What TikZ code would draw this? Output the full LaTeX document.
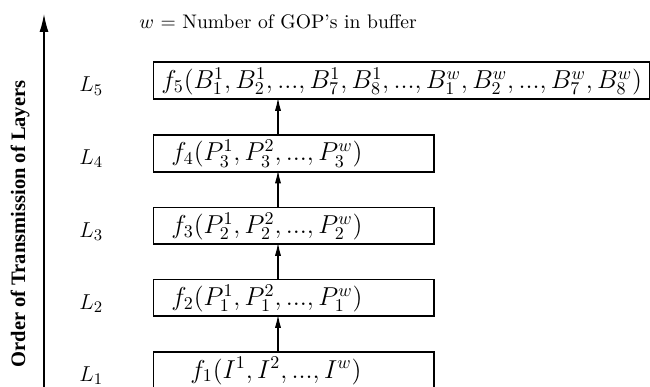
\documentclass[tikz,border=0pt]{standalone}
\usepackage{fontspec}
\newfontfamily\sidefont{Liberation Serif}
\usetikzlibrary{arrows.meta}
\begin{document}
\begin{tikzpicture}[x=0.5556pt,y=-0.5556pt,
  layerbox/.style={draw, line width=1.1pt, rectangle, inner sep=0pt,
    minimum height=20.3pt, anchor=north west},
  smallbox/.style={layerbox, minimum width=155.6pt},
  bigbox/.style={layerbox, minimum width=275.9pt},
  boxtext/.style={anchor=base west, inner sep=0pt, font=\fontsize{14}{16}\selectfont},
  lname/.style={anchor=base west, inner sep=0pt, font=\fontsize{12.5}{14}\selectfont},
  uparrow/.style={line width=0.8pt, -{Latex[length=7.5pt,width=3.4pt]}, shorten >=-1.5pt},
  axisarrow/.style={line width=0.8pt, -{Latex[length=10pt,width=5pt]}}]
\useasboundingbox (0,0) rectangle (650,386);
\clip (0,0) rectangle (650,386);
% title
\node[anchor=base west, inner sep=0pt, font=\fontsize{10.9}{13}\selectfont] (title) at (139,29) {$w$ = Number of GOP's in buffer};
% axis
\coordinate (axb) at (44,392);
\coordinate (axt) at (44,14);
\draw[axisarrow] (axb) -- (axt);
\node[rotate=90, inner sep=0pt, font=\sidefont\bfseries\fontsize{11.4}{13}\selectfont] (side) at (20,224) {Order of Transmission of Layers};
% boxes
\node[bigbox]   (b5) at (152.5,61.5)  {};
\node[smallbox] (b4) at (152.5,134)   {};
\node[smallbox] (b3) at (152.5,206.5) {};
\node[smallbox] (b2) at (152.5,278.5) {};
\node[smallbox] (b1) at (152.5,351)   {};
% box texts
\node[boxtext] (t5) at (161,88.5)  {$f_5(B_1^1,B_2^1,...,B_7^1,B_8^1,...,B_1^w,B_2^w,...,B_7^w,B_8^w)$};
\node[boxtext] (t4) at (171,161)   {$f_4(P_3^1,P_3^2,...,P_3^w)$};
\node[boxtext] (t3) at (171,233.5) {$f_3(P_2^1,P_2^2,...,P_2^w)$};
\node[boxtext] (t2) at (171,305.5) {$f_2(P_1^1,P_1^2,...,P_1^w)$};
\node[boxtext] (t1) at (190,378)   {$f_1(I^1,I^2,...,I^w)$};
% layer names
\node[lname] (l5) at (79,92)    {$L_5$};
\node[lname] (l4) at (79,164.5) {$L_4$};
\node[lname] (l3) at (79,237)   {$L_3$};
\node[lname] (l2) at (79,309)   {$L_2$};
\node[lname] (l1) at (79,381.5) {$L_1$};
% arrows
\coordinate (ax) at (278,0);
\draw[uparrow] (b1.north -| ax) -- (b2.south -| ax);
\draw[uparrow] (b2.north -| ax) -- (b3.south -| ax);
\draw[uparrow] (b3.north -| ax) -- (b4.south -| ax);
\draw[uparrow] (b4.north -| ax) -- (b5.south -| ax);
\end{tikzpicture}
\end{document}
